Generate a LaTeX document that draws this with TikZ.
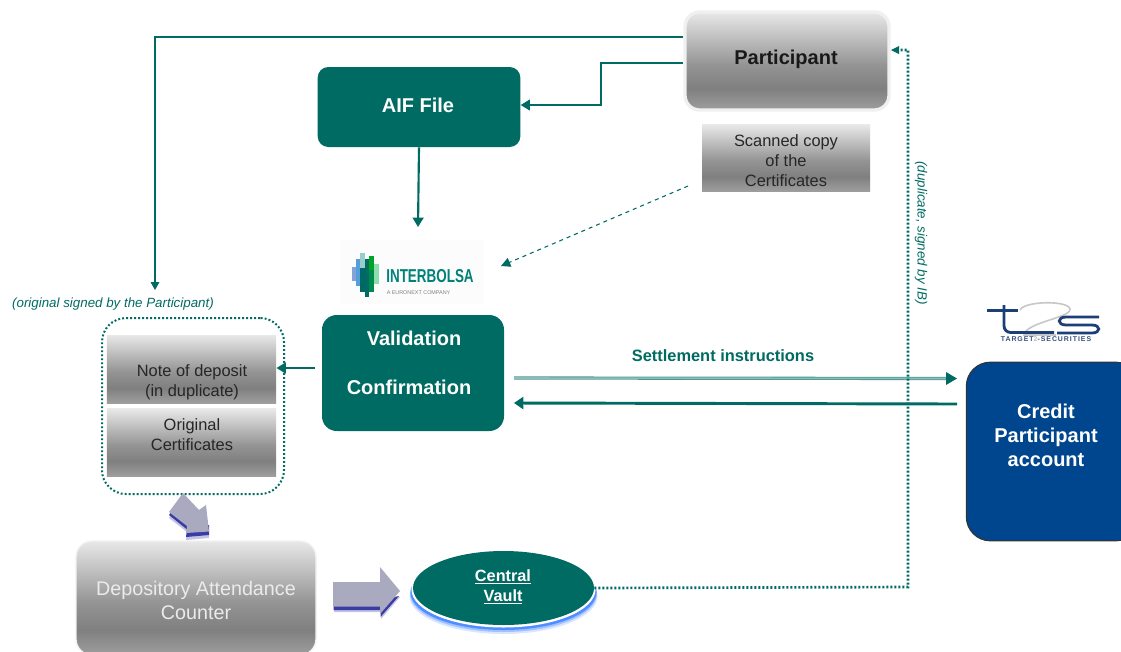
\documentclass[tikz,border=0pt]{standalone}
\usepackage{fontspec}
\usepackage{graphicx}
\setmainfont{Liberation Sans}
\usetikzlibrary{arrows.meta,calc,shapes.geometric}
\definecolor{teal1}{HTML}{006B63}
\definecolor{blue1}{HTML}{00468E}
\definecolor{arrowfill}{HTML}{A9A9C0}
\definecolor{arrowedge}{HTML}{3B3BA5}
\definecolor{navy1}{HTML}{1D3F78}
\pgfdeclareverticalshading{grayv}{100bp}{color(0bp)=(black!38); color(25bp)=(black!38); color(36bp)=(black!50); color(48bp)=(black!42); color(75bp)=(black!9); color(100bp)=(black!9)}
\tikzset{
  x=0.75pt,y=-0.75pt,
  grayshade/.style={shade,shading=grayv,inner sep=0pt,align=center},
  tealbox/.style={fill=teal1,inner sep=0pt,align=center,rounded corners=8pt},
  boxtext/.style={text=white,font=\fontsize{15}{18}\selectfont\bfseries,inner sep=0pt},
  flow/.style={draw=teal1,line width=1.6pt,-{Triangle[length=7pt,width=8pt]}},
  thinflow/.style={draw=teal1,line width=0.9pt,-{Triangle[length=6pt,width=6.5pt]}},
  dotflow/.style={draw=teal1,line width=1.5pt,dash pattern=on 1.4pt off 1.6pt},
  fatarrow/.style={fill=arrowfill,draw=none},
  graytext/.style={text=black!85,font=\fontsize{12.3}{14.8}\selectfont,align=center,inner sep=0pt},
  notelabel/.style={text=teal1,font=\fontsize{10}{12}\selectfont\itshape,inner sep=0pt},
}
\begin{document}
\begin{tikzpicture}
\clip (0,0) rectangle (1121,651);
\fill[white] (0,0) rectangle (1121,651);

% boxes
\node[grayshade,draw=black!6,line width=2.5pt,rounded corners=11pt,minimum width=153pt,minimum height=73.5pt] (part) at (787,61) {};
\node[font=\fontsize{15}{18}\selectfont\bfseries,text=black!90,inner sep=0pt] (parttext) at (786,59) {Participant};
\node[tealbox,minimum width=152pt,minimum height=60pt] (aif) at (419,107) {};
\node[boxtext] (aiftext) at (418,105) {AIF File};
\node[grayshade,minimum width=126pt,minimum height=50pt] (scan) at (786,158) {};
\node[graytext] (scantext) at (786,160.5) {Scanned copy\\of the\\Certificates};
\node[tealbox,rounded corners=11pt,minimum width=136.5pt,minimum height=87pt] (valid) at (413,373) {};
\node[boxtext] (validtext) at (414,338) {Validation};
\node[boxtext] (conftext) at (409,387) {Confirmation};
\node[dotflow,rounded corners=18pt,minimum width=136.5pt,minimum height=132pt,inner sep=0pt] (group) at (193,406) {};
\node[grayshade,minimum width=127pt,minimum height=51pt] (note) at (191.5,369) {};
\node[graytext] (notetext) at (192,382) {Note of deposit\\(in duplicate)};
\node[grayshade,minimum width=127pt,minimum height=50.5pt] (orig) at (191.5,442.5) {};
\node[graytext] (origtext) at (192,434.5) {Original\\Certificates};
\node[grayshade,draw=black!5,line width=1pt,rounded corners=12pt,minimum width=180pt,minimum height=85.5pt] (depo) at (196,598) {};
\node[text=white!92!black,font=\fontsize{14.8}{18}\selectfont,align=center,inner sep=0pt] (depotext) at (196,600) {Depository Attendance\\Counter};
\node[draw=black!80,line width=0.8pt,fill=blue1,rounded corners=18pt,minimum width=130pt,minimum height=134pt,inner sep=0pt] (credit) at (1053,451.5) {};
\node[text=white,font=\fontsize{15}{18}\selectfont\bfseries,align=center,inner sep=0pt] (credittext) at (1046,435) {Credit\\Participant\\account};

% central vault
\fill[blue!65!cyan,opacity=0.15] (503.5,596) ellipse (94 and 38);
\fill[blue!65!cyan,opacity=0.25] (503.5,594) ellipse (93.5 and 38);
\fill[blue!65!cyan,opacity=0.5] (503.5,592.5) ellipse (93 and 37.5);
\fill[white] (503.5,589.5) ellipse (92 and 38);
\node[ellipse,fill=teal1,minimum width=135.75pt,minimum height=55.5pt,inner sep=0pt] (vault) at (503.5,588) {};
\node[text=white,font=\fontsize{12.2}{15}\selectfont\bfseries,align=center,inner sep=0pt] (vaulttext) at (503,587) {\underline{Central}\\\underline{Vault}};

% fat arrows
\fill[arrowedge,opacity=0.3] (169,518) -- (187,532) -- (186,540) -- (209,538) -- (208,525) -- (186,525) -- (175,507) -- cycle;
\fill[arrowedge] (169,515) -- (187,529.5) -- (186,537) -- (209,535) -- (209,525) -- (186,525) -- (175,507) -- cycle;
\fill[fatarrow] (169,512) -- (187,526) -- (186,533) -- (209,531.5) -- (206,505) -- (199,510) -- (183,493) -- cycle;
\fill[arrowedge,opacity=0.3] (334,600) -- (334,612) -- (381,612) -- (381,619) -- (400,597) -- (381,600) -- cycle;
\fill[arrowedge] (333.5,600) -- (333.5,610) -- (380.5,610) -- (380.5,617) -- (399,596) -- (380.5,600) -- cycle;
\fill[fatarrow] (333,582) -- (380,582) -- (380,567) -- (400,591) -- (380,614) -- (380,606.5) -- (333,606.5) -- cycle;

% logo interbolsa
\fill[black!1] (340,240) rectangle (484,304);
\fill[cyan!45!blue!50] (352,267) rectangle (356,281);
\fill[cyan!65!blue!70] (356,259) rectangle (360,286);
\fill[teal!40] (360,253) rectangle (365,268);
\fill[teal!80!black] (360,268) rectangle (365,292);
\fill[teal1] (365,259) rectangle (369,297);
\fill[green!60!teal!80!black] (369,256) rectangle (374,270);
\fill[teal1!80!green] (369,270) rectangle (374,292);
\fill[green!45!teal!45] (374,264) rectangle (379,284);
\node[text=teal1!85!cyan,font=\fontsize{14}{16}\selectfont\bfseries,inner sep=0pt] (ibtext) at (430,276) {\scalebox{0.72}[1]{INTERBOLSA}};
\node[text=black!50,font=\fontsize{4.05}{5}\selectfont,inner sep=0pt] (ibsub) at (418.5,293) {A EURONEXT COMPANY};

% logo t2s
\draw[black!22,line width=1.2pt] (1020,310) .. controls (1024,301) and (1068,300) .. (1070,309) .. controls (1071,318) and (1026,322) .. (1024,335) -- (1056,335);
\draw[navy1,line width=2.1pt] (987,310.5) -- (1018,310.5);
\draw[navy1,line width=2.1pt,rounded corners=5pt] (1004,305) -- (1004,332.5) -- (1054,332.5);
\draw[navy1,line width=2.1pt] (1099,317) -- (1066,317) .. controls (1057,317) and (1057,325) .. (1066,325) -- (1092,325) .. controls (1101,325) and (1101,333) .. (1092,333) -- (1057,333);
\node[text=navy1!75!gray,font=\fontsize{5.2}{6}\selectfont\bfseries\addfontfeatures{LetterSpace=14},inner sep=0pt] (t2stext) at (1046,339.5) {TARGET\textcolor{black!25}{2}-SECURITIES};

% connectors
\coordinate (partA) at (part.west |- 0,63);
\coordinate (partB) at (part.west |- 0,37);
\coordinate (groupTop) at (155,290);
\coordinate (corner1) at (155,37);
\coordinate (ibIn) at (418,227);
\coordinate (ibDash) at (501,266);
\coordinate (scanOut) at (688,186);
\coordinate (valOut) at (315,368);
\coordinate (dotR) at (908,587);
\coordinate (dotU) at (908,50);
\coordinate (dotEnd) at (897,50);
\coordinate (t2in) at (957,378.5);
\coordinate (t2out) at (957,404);
\coordinate (valIn) at (514,378);
\coordinate (valBack) at (514,403);

\draw[flow] (partA) -- (601,63) -- (601,105) -- (aif.east |- 0,105);
\draw[thinflow] (partB) -- (corner1) -- (groupTop);
\draw[flow] (aif.south) -- (ibIn);
\draw[draw=teal1,line width=0.8pt,dashed,-{Triangle[length=7pt,width=7pt]}] (scanOut) -- (ibDash);
\draw[flow] (valOut) -- (note.east |- valOut);
\draw[draw=teal1!70,line width=0.6pt,double=teal1!45,double distance=1.2pt,shorten >=6pt] (valIn) -- (t2in);
\fill[teal1] (t2in) -- (946,372) -- (946,385) -- cycle;
\draw[flow,line width=2.2pt,-{Triangle[length=7pt,width=9pt]}] (t2out) -- (valBack);
\draw[dotflow,line width=2pt,dash pattern=on 1.5pt off 1.5pt] (vault.east) -- (dotR) -- (dotU) -- (dotEnd);
\fill[teal1] (891,50) -- (899,46) -- (899,54) -- cycle;

% labels
\node[notelabel] (lab1) at (113,304) {(original signed by the Participant)};
\node[notelabel,rotate=-90] (lab2) at (921,233) {(duplicate, signed by IB)};
\node[text=teal1,font=\fontsize{12.3}{14}\selectfont\bfseries,inner sep=0pt] (lab3) at (723,355.5) {Settlement instructions};
\end{tikzpicture}
\end{document}
